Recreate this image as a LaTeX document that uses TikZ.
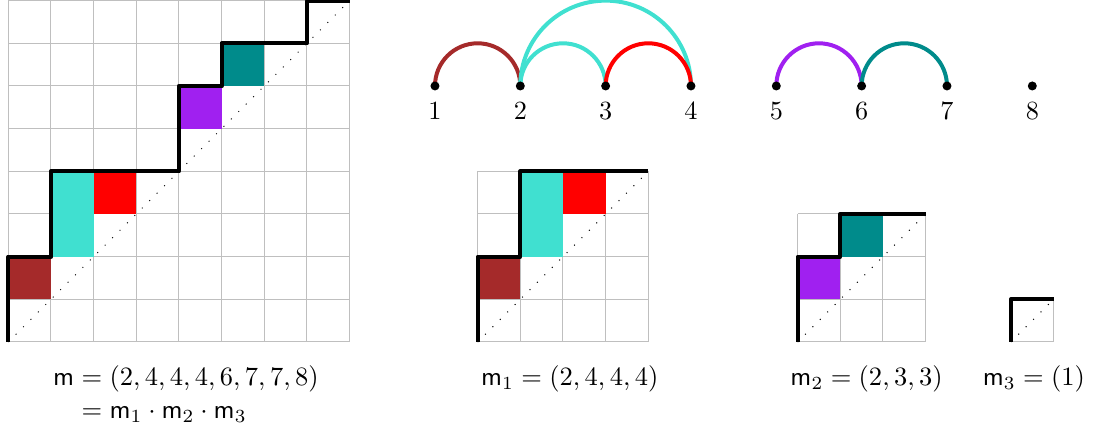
\documentclass[tikz,border=0pt]{standalone}
\usepackage{amsmath}
\definecolor{cbrown}{RGB}{165,42,42}
\definecolor{cturq}{RGB}{64,224,208}
\definecolor{cpurple}{RGB}{160,32,240}
\definecolor{cteal}{RGB}{0,139,139}
\tikzset{
  gridline/.style={draw=gray!50, line width=0.4pt, step=1},
  dyck/.style={line width=1.7pt, line join=round},
  diag/.style={line width=0.4pt, dash pattern=on 0.4pt off 3.8pt},
  arcline/.style={line width=1.6pt},
  pt/.style={circle, fill=black, inner sep=0pt, minimum size=3.6pt},
  lbl/.style={below=3pt, inner sep=3.33pt, scale=1.05},
  eqtext/.style={anchor=base west, inner sep=0pt, scale=1.06},
}
\begin{document}
\begin{tikzpicture}[x=0.6cm,y=0.6cm]
\useasboundingbox (-0.195,-1.992) rectangle (25.54,8.015);
% ---------- big grid m ----------
\draw[gridline] (0,0) grid (8,8);
\fill[cbrown] (0,1) rectangle (1,2);
\fill[cturq] (1,2) rectangle (2,4);
\fill[red] (2,3) rectangle (3,4);
\fill[cpurple] (4,5) rectangle (5,6);
\fill[cteal] (5,6) rectangle (6,7);
\draw[diag] (0,0) -- (8,8);
\draw[dyck] (0,0) -- (0,2) -- (1,2) -- (1,4) -- (4,4) -- (4,6) -- (5,6) -- (5,7) -- (7,7) -- (7,8) -- (8,8);
% ---------- grid m1 ----------
\begin{scope}[shift={(11,0)}]
\draw[gridline] (0,0) grid (4,4);
\fill[cbrown] (0,1) rectangle (1,2);
\fill[cturq] (1,2) rectangle (2,4);
\fill[red] (2,3) rectangle (3,4);
\draw[diag] (0,0) -- (4,4);
\draw[dyck] (0,0) -- (0,2) -- (1,2) -- (1,4) -- (4,4);
\end{scope}
% ---------- grid m2 ----------
\begin{scope}[shift={(18.5,0)}]
\draw[gridline] (0,0) grid (3,3);
\fill[cpurple] (0,1) rectangle (1,2);
\fill[cteal] (1,2) rectangle (2,3);
\draw[diag] (0,0) -- (3,3);
\draw[dyck] (0,0) -- (0,2) -- (1,2) -- (1,3) -- (3,3);
\end{scope}
% ---------- grid m3 ----------
\begin{scope}[shift={(23.5,0)}]
\draw[gridline] (0,0) grid (1,1);
\draw[diag] (0,0) -- (1,1);
\draw[dyck] (0,0) -- (0,1) -- (1,1);
\end{scope}
% ---------- arc diagram ----------
\foreach \i in {1,...,8} {
  \coordinate (c\i) at ({10+2*(\i-1)},6);
}
\draw[arcline,cbrown] (c1) arc[start angle=180,end angle=0,radius=1];
\draw[arcline,cturq] (c2) arc[start angle=180,end angle=0,radius=2];
\draw[arcline,cturq] (c2) arc[start angle=180,end angle=0,radius=1];
\draw[arcline,red] (c3) arc[start angle=180,end angle=0,radius=1];
\draw[arcline,cpurple] (c5) arc[start angle=180,end angle=0,radius=1];
\draw[arcline,cteal] (c6) arc[start angle=180,end angle=0,radius=1];
\foreach \i in {1,...,8} {
  \node[pt] (p\i) at (c\i) {};
  \node[lbl] (l\i) at (c\i) {$\i$};
}
% ---------- texts ----------
\node[eqtext] (mtext) at (1.04,-1.024) {\setlength\jot{0.3pt}$\begin{aligned}[t]\mathsf{m} &= (2,4,4,4,6,7,7,8)\\ &= \mathsf{m}_1\cdot\mathsf{m}_2\cdot\mathsf{m}_3\end{aligned}$};
\node[eqtext] (m1text) at (11.07,-1.024) {$\mathsf{m}_1 = (2,4,4,4)$};
\node[eqtext] (m2text) at (18.32,-1.024) {$\mathsf{m}_2 = (2,3,3)$};
\node[eqtext] (m3text) at (22.83,-1.024) {$\mathsf{m}_3 = (1)$};
\end{tikzpicture}
\end{document}
